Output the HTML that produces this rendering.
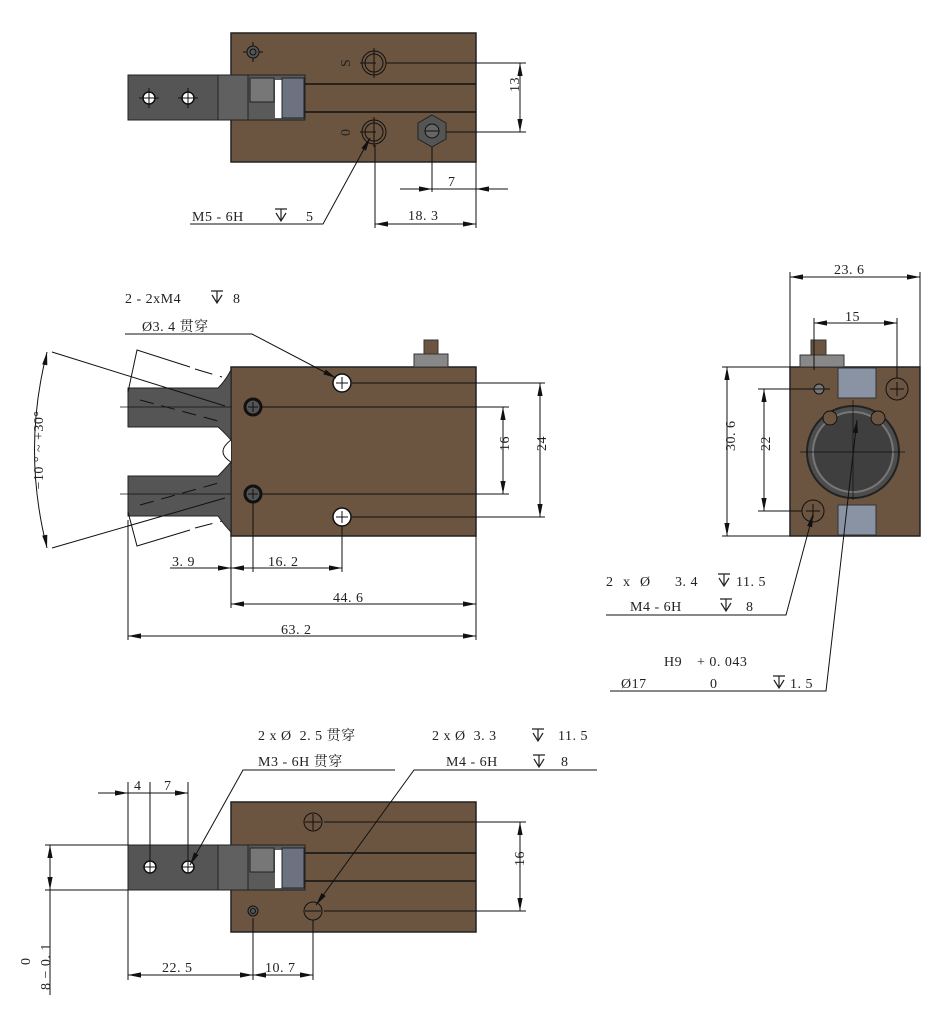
<!DOCTYPE html>
<html><head><meta charset="utf-8">
<style>
html,body{margin:0;padding:0;background:#fff;}
svg{display:block;}
text{font-family:"Liberation Serif","Noto Serif CJK SC",serif;font-size:14px;fill:#222;letter-spacing:0.5px;}
</style></head>
<body>
<svg width="941" height="1024" viewBox="0 0 941 1024" xmlns="http://www.w3.org/2000/svg">
<defs>
<path id="ah" d="M0,0 L-13,-2.6 L-13,2.6Z" fill="#111" stroke="none"/>
<g id="dp" fill="none" stroke="#222" stroke-width="1.2"><path d="M-6,-11h12M-5,-7L0,1L5,-7M0,-11V1"/></g>
</defs>
<g stroke="#111" stroke-width="1" fill="none">

<!-- ===== TOP VIEW ===== -->
<rect x="231" y="33" width="245" height="129" fill="#6b5440" stroke="#222" stroke-width="1.5"/>
<rect x="128" y="75" width="90" height="45" fill="#555" stroke="#222"/>
<rect x="218" y="75" width="30" height="45" fill="#606060" stroke="#222"/>
<rect x="248" y="75" width="57" height="45" fill="#5a5a5a" stroke="#222"/>
<rect x="250" y="78" width="24" height="24" fill="#777" stroke="#222"/>
<rect x="275" y="80" width="10" height="38" fill="#fff" stroke="none"/>
<rect x="282" y="78" width="22" height="40" fill="#6d7280" stroke="#222"/>
<line x1="305" y1="84" x2="476" y2="84" stroke-width="1.5"/>
<line x1="305" y1="112" x2="476" y2="112" stroke-width="1.5"/>
<circle cx="149" cy="98" r="6" fill="#fff" stroke-width="1.5"/><path d="M143,98h12M149,92v12M139,98h4M155,98h4M149,88v4M149,104v4"/>
<circle cx="188" cy="98" r="6" fill="#fff" stroke-width="1.5"/><path d="M182,98h12M188,92v12M178,98h4M194,98h4M188,88v4M188,104v4"/>
<circle cx="253" cy="52" r="6" fill="#555"/><circle cx="253" cy="52" r="3"/><path d="M243,52h4M259,52h4M253,42v4M253,58v4"/>
<circle cx="374" cy="63" r="12"/><circle cx="374" cy="63" r="9"/><path d="M360,63h16M374,48v30"/>
<circle cx="374" cy="132" r="12"/><circle cx="374" cy="132" r="9"/><path d="M360,132h16M374,117v30"/>
<polygon points="432,115 446,123 446,139 432,147 418,139 418,123" fill="#555" stroke="#222"/>
<circle cx="432" cy="131" r="7" fill="#666"/><path d="M425,131h14"/>
<path d="M386,63H526M446,132H526"/>
<line x1="520" y1="63" x2="520" y2="132"/>
<path d="M432,147V192M476,162V228M375,145V228"/>
<line x1="400" y1="189" x2="508" y2="189"/>
<line x1="375" y1="224" x2="476" y2="224"/>
<polyline points="190,224 323,224 370,138"/>

<!-- ===== MIDDLE VIEW ===== -->
<rect x="231" y="367" width="245" height="169" fill="#6b5440" stroke="#222" stroke-width="1.5"/>
<rect x="414" y="354" width="34" height="13" fill="#888" stroke="#333"/>
<rect x="424" y="340" width="14" height="14" fill="#6b5440" stroke="#333"/>
<path d="M128,388H218Q226,380 231,370V440Q222,430 218,427H128Z" fill="#555" stroke="#222"/>
<path d="M128,476H218Q224,470 231,462V532Q225,526 218,516H128Z" fill="#555" stroke="#222"/>
<path d="M231,440Q215,452 231,462" fill="#fff"/>
<path d="M128,392L137,350L190,367" />
<path d="M195,369L222,377" stroke-dasharray="18,8"/>
<path d="M128,512L137,546L190,530"/>
<path d="M195,528L222,521" stroke-dasharray="18,8"/>
<path d="M140,400L222,422M140,505L222,482" stroke-dasharray="14,8"/>
<path d="M52,352L225,406M52,548L225,498"/>
<path d="M47,352Q22,450 47,548"/>
<path d="M120,407H231M120,494H231" stroke-width="0.7"/>
<circle cx="342" cy="383" r="9" fill="#fff" stroke-width="1.5"/><path d="M336,383h12M342,377v12"/>
<circle cx="342" cy="517" r="9" fill="#fff" stroke-width="1.5"/><path d="M336,517h12M342,511v12"/>
<circle cx="253" cy="407" r="8" fill="#555" stroke-width="3"/><path d="M248,407h10M253,402v10"/>
<circle cx="253" cy="494" r="8" fill="#555" stroke-width="3"/><path d="M248,494h10M253,489v10"/>
<path d="M352,383H545M262,407H509M262,494H509M352,517H545"/>
<line x1="503" y1="407" x2="503" y2="494"/>
<line x1="540" y1="383" x2="540" y2="517"/>
<path d="M128,520V640M231,536V608M476,536V640M342,526V572M253,502V572"/>
<line x1="170" y1="568" x2="342" y2="568"/>
<line x1="231" y1="604" x2="476" y2="604"/>
<line x1="128" y1="636" x2="476" y2="636"/>
<polyline points="125,334 252,334 336,378"/>

<!-- ===== RIGHT VIEW ===== -->
<rect x="790" y="367" width="130" height="169" fill="#6b5440" stroke="#222" stroke-width="1.5"/>
<rect x="800" y="355" width="44" height="12" fill="#888" stroke="#333"/>
<rect x="811" y="340" width="15" height="15" fill="#6b5440" stroke="#333"/>
<rect x="838" y="368" width="38" height="30" fill="#8a93a3" stroke="#333"/>
<rect x="838" y="505" width="38" height="30" fill="#8a93a3" stroke="#333"/>
<circle cx="853" cy="452" r="46" fill="#4d4d4d" stroke="#222" stroke-width="2"/>
<circle cx="853" cy="452" r="40" fill="#3f3f3f" stroke="#777" stroke-width="2"/>
<circle cx="830" cy="418" r="7" fill="#6b5440"/><circle cx="878" cy="418" r="7" fill="#6b5440"/>
<circle cx="897" cy="389" r="11"/><path d="M890,389h14M897,382v14"/>
<circle cx="813" cy="511" r="11"/><path d="M806,511h14M813,504v14"/>
<circle cx="819" cy="389" r="5" fill="#777"/>
<path d="M790,367V272M920,367V272M814,370V318M897,378V318"/>
<line x1="790" y1="277" x2="920" y2="277"/>
<line x1="814" y1="323" x2="897" y2="323"/>
<path d="M722,367H790M722,536H790M758,389H830M758,511H802"/>
<line x1="727" y1="367" x2="727" y2="536"/>
<line x1="764" y1="389" x2="764" y2="511"/>
<path d="M800,452H905M853,400V500" stroke-width="0.7"/>
<polyline points="606,615 786,615 813,514"/>
<polyline points="610,691 826,691 857,420"/>

<!-- ===== BOTTOM VIEW ===== -->
<rect x="231" y="802" width="245" height="130" fill="#6b5440" stroke="#222" stroke-width="1.5"/>
<rect x="128" y="845" width="90" height="45" fill="#555" stroke="#222"/>
<rect x="218" y="845" width="30" height="45" fill="#606060" stroke="#222"/>
<rect x="248" y="845" width="57" height="45" fill="#5a5a5a" stroke="#222"/>
<rect x="250" y="848" width="24" height="24" fill="#777" stroke="#222"/>
<rect x="275" y="850" width="10" height="38" fill="#fff" stroke="none"/>
<rect x="282" y="848" width="22" height="40" fill="#6d7280" stroke="#222"/>
<line x1="305" y1="853" x2="476" y2="853" stroke-width="1.5"/>
<line x1="305" y1="881" x2="476" y2="881" stroke-width="1.5"/>
<circle cx="150" cy="867" r="6" fill="#fff" stroke-width="1.5"/><path d="M144,867h12M150,861v12"/>
<circle cx="188" cy="867" r="6" fill="#fff" stroke-width="1.5"/><path d="M182,867h12M188,861v12"/>
<circle cx="313" cy="822" r="9"/><path d="M305,822h16M313,814v16"/>
<circle cx="313" cy="911" r="9"/><path d="M305,911h16"/>
<circle cx="253" cy="911" r="5" fill="#555"/><circle cx="253" cy="911" r="2.5"/>
<path d="M324,822H526M324,911H526"/>
<line x1="520" y1="822" x2="520" y2="911"/>
<path d="M128,845V782M150,860V782M188,860V782M128,890V980M253,918V980M313,920V980"/>
<line x1="98" y1="793" x2="188" y2="793"/>
<line x1="128" y1="975" x2="313" y2="975"/>
<path d="M45,845H128M45,890H128M50,845V995"/>
<polyline points="395,770 243,770 190,865"/>
<polyline points="597,770 414,770 316,905"/>
</g>

<!-- ===== ARROWHEADS ===== -->
<g>
<use href="#ah" transform="translate(520,63) rotate(-90)"/><use href="#ah" transform="translate(520,132) rotate(90)"/>
<use href="#ah" transform="translate(432,189)"/><use href="#ah" transform="translate(476,189) rotate(180)"/>
<use href="#ah" transform="translate(375,224) rotate(180)"/><use href="#ah" transform="translate(476,224)"/>
<use href="#ah" transform="translate(370,138) rotate(-61)"/>
<use href="#ah" transform="translate(47,352) rotate(-80)"/><use href="#ah" transform="translate(47,548) rotate(80)"/>
<use href="#ah" transform="translate(503,407) rotate(-90)"/><use href="#ah" transform="translate(503,494) rotate(90)"/>
<use href="#ah" transform="translate(540,383) rotate(-90)"/><use href="#ah" transform="translate(540,517) rotate(90)"/>
<use href="#ah" transform="translate(231,568)"/>
<use href="#ah" transform="translate(231,568) rotate(180)"/><use href="#ah" transform="translate(342,568)"/>
<use href="#ah" transform="translate(231,604) rotate(180)"/><use href="#ah" transform="translate(476,604)"/>
<use href="#ah" transform="translate(128,636) rotate(180)"/><use href="#ah" transform="translate(476,636)"/>
<use href="#ah" transform="translate(336,378) rotate(28)"/>
<use href="#ah" transform="translate(790,277) rotate(180)"/><use href="#ah" transform="translate(920,277)"/>
<use href="#ah" transform="translate(814,323) rotate(180)"/><use href="#ah" transform="translate(897,323)"/>
<use href="#ah" transform="translate(727,367) rotate(-90)"/><use href="#ah" transform="translate(727,536) rotate(90)"/>
<use href="#ah" transform="translate(764,389) rotate(-90)"/><use href="#ah" transform="translate(764,511) rotate(90)"/>
<use href="#ah" transform="translate(813,514) rotate(-75)"/>
<use href="#ah" transform="translate(857,420) rotate(-83)"/>
<use href="#ah" transform="translate(520,822) rotate(-90)"/><use href="#ah" transform="translate(520,911) rotate(90)"/>
<use href="#ah" transform="translate(128,793)"/><use href="#ah" transform="translate(188,793)"/>
<use href="#ah" transform="translate(128,975) rotate(180)"/><use href="#ah" transform="translate(253,975)"/>
<use href="#ah" transform="translate(253,975) rotate(180)"/><use href="#ah" transform="translate(313,975)"/>
<use href="#ah" transform="translate(50,845) rotate(-90)"/><use href="#ah" transform="translate(50,890) rotate(90)"/>
<use href="#ah" transform="translate(190,865) rotate(119)"/>
<use href="#ah" transform="translate(316,905) rotate(126)"/>
</g>

<use href="#dp" x="281" y="220"/>
<use href="#dp" x="217" y="302"/>
<use href="#dp" x="724" y="585"/>
<use href="#dp" x="726" y="610"/>
<use href="#dp" x="779" y="687"/>
<use href="#dp" x="538" y="740"/>
<use href="#dp" x="539" y="766"/>

<!-- ===== TEXT ===== -->
<text x="341" y="68" transform="rotate(-90 345 63)">S</text>
<text x="341" y="137" transform="rotate(-90 345 132)">0</text>
<text x="518" y="103" transform="rotate(-90 513 97)">13</text>
<text x="448" y="186">7</text>
<text x="408" y="220">18. 3</text>
<text x="192" y="221">M5 - 6H</text>
<text x="306" y="221">5</text>

<text x="125" y="303">2 - 2xM4</text>
<text x="233" y="303">8</text>
<text x="142" y="331">Ø3. 4 贯穿</text>
<text x="38" y="455" text-anchor="middle" font-size="16" transform="rotate(-90 38 450)">−10 ° ~ +30°</text>
<text x="500" y="460" transform="rotate(-90 500 451)">16</text>
<text x="537" y="460" transform="rotate(-90 537 451)">24</text>
<text x="172" y="566">3. 9</text>
<text x="268" y="566">16. 2</text>
<text x="333" y="602">44. 6</text>
<text x="281" y="634">63. 2</text>

<text x="834" y="274">23. 6</text>
<text x="845" y="321">15</text>
<text x="723" y="463" transform="rotate(-90 723 451)">30. 6</text>
<text x="761" y="460" transform="rotate(-90 761 451)">22</text>
<text x="606" y="586">2</text><text x="623" y="586">x</text><text x="640" y="586">Ø</text>
<text x="675" y="586">3. 4</text><text x="736" y="586">11. 5</text>
<text x="630" y="611">M4 - 6H</text><text x="746" y="611">8</text>
<text x="664" y="666">H9</text><text x="697" y="666">+ 0. 043</text>
<text x="621" y="688">Ø17</text><text x="710" y="688">0</text><text x="790" y="688">1. 5</text>

<text x="258" y="740">2 x Ø&#160;&#160;2. 5 贯穿</text>
<text x="258" y="766">M3 - 6H 贯穿</text>
<text x="432" y="740">2 x Ø&#160;&#160;3. 3</text><text x="558" y="740">11. 5</text>
<text x="446" y="766">M4 - 6H</text><text x="561" y="766">8</text>
<text x="134" y="790">4</text>
<text x="164" y="790">7</text>
<text x="517" y="873" transform="rotate(-90 517 866)">16</text>
<text x="162" y="972">22. 5</text>
<text x="265" y="972">10. 7</text>
<text x="25" y="970" transform="rotate(-90 25 965)">0</text>
<text x="45" y="995" transform="rotate(-90 45 990)">8 − 0. 1</text>
</svg>
</body></html>
